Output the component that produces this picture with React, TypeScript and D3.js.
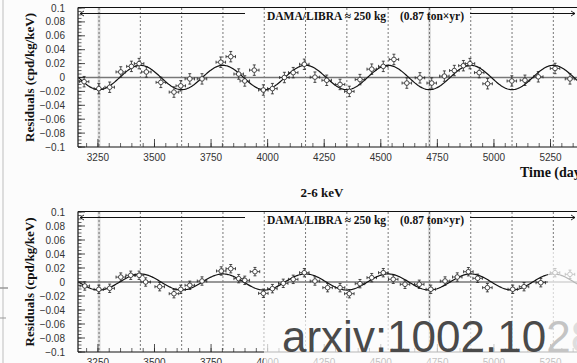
import React from "react";
import * as d3 from "d3";

// ---- data ----
const xTickValues = [3250, 3500, 3750, 4000, 4250, 4500, 4750, 5000, 5250];
const yTickValues = [0.1, 0.08, 0.06, 0.04, 0.02, 0, -0.02, -0.04, -0.06, -0.08, -0.1];
const yTickLabels = ["0.1", "0.08", "0.06", "0.04", "0.02", "0", "\u22120.02", "\u22120.04", "\u22120.06", "\u22120.08", "\u22120.1"];

const daysTop = [3189, 3254, 3302, 3351, 3398, 3432, 3464, 3528, 3586, 3616, 3656, 3710, 3793, 3837, 3872, 3899,
  3941, 3981, 4021, 4074, 4113, 4162, 4209, 4261, 4320, 4361, 4408, 4460, 4511, 4558, 4615, 4673, 4725, 4781,
  4825, 4865, 4894, 4935, 4972, 5079, 5137, 5196, 5270, 5336];
const resTop = [-0.006, -0.016, -0.014, 0.008, 0.016, 0.02, 0.008, -0.007, -0.021, -0.012, -0.002, -0.002, 0.022, 0.03,
  0.005, -0.005, 0.0106, -0.018, -0.016, 0.0, 0.007, 0.019, 0.0005, -0.004, -0.01, -0.02, -0.003, 0.012, 0.016, 0.026,
  -0.008, -0.0005, -0.008, 0.002, 0.01, 0.017, 0.02, 0.007, -0.009, -0.005, -0.004, 0.001, 0.013, -0.002];

const daysBottom = [3192, 3254, 3302, 3351, 3395, 3432, 3461, 3523, 3586, 3616, 3656, 3710, 3795, 3837, 3872, 3899,
  3944, 3981, 4021, 4069, 4113, 4162, 4209, 4265, 4320, 4361, 4408, 4460, 4511, 4555, 4607, 4670, 4721, 4784,
  4838, 4887, 4928, 4971, 5083, 5133, 5207, 5270, 5336];
const resBottom = [-0.0057, -0.0105, -0.009, 0.007, 0.0096, 0.0096, 0.0, -0.0067, -0.0167, -0.0105, -0.0047, 0.0014,
  0.0157, 0.019, 0.0048, 0.0024, 0.0148, -0.0162, -0.0095, -0.0019, 0.0038, 0.0133, 0.0014, -0.0081, -0.0081, -0.0167,
  -0.0024, 0.0062, 0.0133, 0.0039, -0.0033, -0.0033, -0.0104, 0.0014, 0.0071, 0.0147, 0.0053, -0.0081, -0.0104,
  -0.0067, -0.001, 0.0133, 0.011];

const ampTop = 0.0175;
const ampBottom = 0.0115;
const period = 365;
const phase = 152.5;
const errTop = 0.0075;
const errBottom = 0.006;
const errDays = 21;
const scanBandDays = [3255, 4715];

const dayDomain = [3162, 5400];

function Panel({ top, bottom, days, res, amp, err }: any) {
  const x = d3.scaleLinear().domain(dayDomain).range([78, 78 + (dayDomain[1] - dayDomain[0]) * 0.2263]);
  const y = d3.scaleLinear().domain([-0.1, 0.1]).range([bottom, top]);
  const x0 = x.range()[0];
  const minorY = d3.range(-0.1, 0.1001, 0.005);
  const minorX = d3.range(3200, 5401, 50);
  const phaseLines = d3.range(0, 14).map((n) => phase + 365 * 8 + n * 182.5).filter((t) => t > dayDomain[0] && t < 5380);
  const curveDays = d3.range(3165, 5400, 4);
  const line = d3.line<number>().x((t) => x(t)).y((t) => y(amp * Math.cos((2 * Math.PI / period) * (t - phase))));
  const arrowY = top + 5.5;
  return (
    <g>
      {scanBandDays.map((t, i) => (
        <line key={"b" + i} x1={x(t)} x2={x(t)} y1={top} y2={bottom} stroke="#dcdcdc" strokeWidth={3} />
      ))}
      {phaseLines.map((t, i) => (
        <line key={"v" + i} x1={x(t)} x2={x(t)} y1={top} y2={bottom} stroke="#555" strokeWidth={0.8} strokeDasharray="2,2" />
      ))}
      {/* zero line */}
      <line x1={x0} x2={577} y1={y(0)} y2={y(0)} stroke="#777" strokeWidth={1.5} />
      {/* fit curve */}
      <path d={line(curveDays) || ""} fill="none" stroke="#111" strokeWidth={1.2} />
      {/* points */}
      {days.map((t: number, i: number) => {
        const cx = x(t), cy = y(res[i]);
        const x1 = x(t - errDays), x2 = x(t + errDays);
        const y1 = y(res[i] + err), y2 = y(res[i] - err);
        return (
          <g key={"p" + i} stroke="#222" strokeWidth={0.8}>
            <line x1={x1} x2={x2} y1={cy} y2={cy} />
            <line x1={cx} x2={cx} y1={y1} y2={y2} />
            <line x1={x1} x2={x1} y1={cy - 1.5} y2={cy + 1.5} />
            <line x1={x2} x2={x2} y1={cy - 1.5} y2={cy + 1.5} />
            <line x1={cx - 1.5} x2={cx + 1.5} y1={y1} y2={y1} />
            <line x1={cx - 1.5} x2={cx + 1.5} y1={y2} y2={y2} />
            <circle cx={cx} cy={cy} r={2.3} fill="white" />
          </g>
        );
      })}
      {/* frame */}
      <line x1={x0} x2={600} y1={top - 0.5} y2={top - 0.5} stroke="#111" strokeWidth={1} />
      <line x1={x0} x2={600} y1={bottom} y2={bottom} stroke="#111" strokeWidth={1} />
      <line x1={x0} x2={x0} y1={top - 0.5} y2={bottom} stroke="#111" strokeWidth={1.2} />
      {/* y ticks */}
      {minorY.map((v, i) => (
        <line key={"my" + i} x1={x0} x2={x0 + 3.5} y1={y(v)} y2={y(v)} stroke="#222" strokeWidth={0.7} />
      ))}
      {yTickValues.map((v, i) => (
        <g key={"y" + i}>
          <line x1={x0} x2={x0 + 7} y1={y(v)} y2={y(v)} stroke="#222" strokeWidth={0.8} />
          <text x={65} y={y(v) + 3.5} textAnchor="end" fontSize={10} fontFamily="Liberation Sans, Arial, sans-serif" fill="#333">
            {yTickLabels[i]}
          </text>
        </g>
      ))}
      {/* x ticks */}
      {minorX.map((v, i) => (
        <line key={"mx" + i} x1={x(v)} x2={x(v)} y1={bottom} y2={bottom - 4} stroke="#222" strokeWidth={0.7} />
      ))}
      {xTickValues.map((v, i) => (
        <g key={"x" + i}>
          <line x1={x(v)} x2={x(v)} y1={bottom} y2={bottom - 8} stroke="#222" strokeWidth={0.8} />
          <text x={x(v)} y={bottom + 13.5} textAnchor="middle" fontSize={10} fontFamily="Liberation Sans, Arial, sans-serif" fill="#333">
            {v}
          </text>
        </g>
      ))}
      {/* arrows + label */}
      <line x1={x0 + 2} x2={245} y1={arrowY} y2={arrowY} stroke="#111" strokeWidth={1} />
      <path d={`M${x0 + 6},${arrowY - 2.5} L${x0 + 2},${arrowY} L${x0 + 6},${arrowY + 2.5}`} fill="none" stroke="#111" strokeWidth={0.9} />
      <line x1={470} x2={575} y1={arrowY} y2={arrowY} stroke="#111" strokeWidth={1} />
      <path d={`M${571},${arrowY - 2.5} L${575},${arrowY} L${571},${arrowY + 2.5}`} fill="none" stroke="#111" strokeWidth={0.9} />
      <text x={267} y={arrowY + 6} fontSize={11.5} fontWeight="bold" fontFamily="Liberation Serif, Times New Roman, serif" fill="#111">
        DAMA/LIBRA ≈ 250 kg
      </text>
      <text x={400} y={arrowY + 6} fontSize={11.5} fontWeight="bold" fontFamily="Liberation Serif, Times New Roman, serif" fill="#111">
        (0.87 ton×yr)
      </text>
      <text
        transform={`translate(33.5, ${(top + bottom) / 2}) rotate(-90)`}
        textAnchor="middle"
        fontSize={13}
        fontWeight="bold"
        fontFamily="Liberation Serif, Times New Roman, serif"
        fill="#111"
      >
        Residuals (cpd/kg/keV)
      </text>
    </g>
  );
}

export default function App() {
  return (
    <svg width={577} height={363} style={{ position: "absolute", left: 0, top: 0, background: "#fcfcfc" }}>
      <rect x={0} y={0} width={577} height={363} fill="#fcfcfc" />
      <line x1={3} x2={3} y1={0} y2={363} stroke="#ddd" strokeWidth={2} />
      <line x1={0} x2={8} y1={288} y2={288} stroke="#999" strokeWidth={1.5} />
      <line x1={0} x2={6} y1={318} y2={318} stroke="#999" strokeWidth={1} />
      <Panel top={8} bottom={147} days={daysTop} res={resTop} amp={ampTop} err={errTop} />
      <Panel top={212} bottom={352} days={daysBottom} res={resBottom} amp={ampBottom} err={errBottom} />
      <text x={520} y={177} fontSize={14} fontWeight="bold" fontFamily="Liberation Serif, Times New Roman, serif" fill="#111">
        Time (days)
      </text>
      <text x={322} y={197} textAnchor="middle" fontSize={13} fontWeight="bold" fontFamily="Liberation Serif, Times New Roman, serif" fill="#111">
        2-6 keV
      </text>
      {/* watermark fade */}
      <rect x={264} y={318} width={313} height={45} fill="#fcfcfc" opacity={0.7} />
      <rect x={548} y={250} width={29} height={68} fill="#fcfcfc" opacity={0.7} />
      <text x={282} y={352} fontSize={44} fontFamily="Liberation Sans, Arial, sans-serif" fill="#4a4a4a">
        arxiv:1002.10<tspan fill="#c4c4c4">2</tspan><tspan fill="#dedede">8</tspan>
      </text>
    </svg>
  );
}
